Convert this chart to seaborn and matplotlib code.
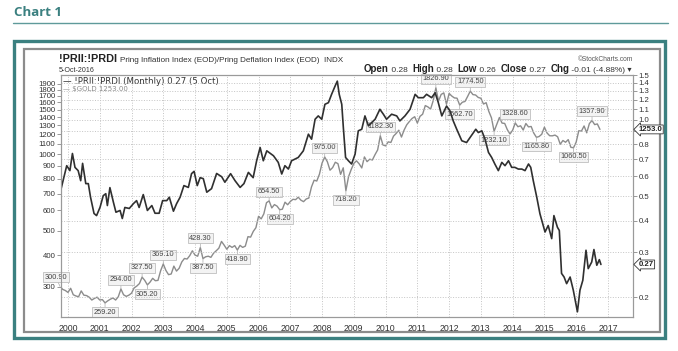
import matplotlib
matplotlib.use("Agg")
import matplotlib.pyplot as plt
from matplotlib.patches import Rectangle
from matplotlib.lines import Line2D
import pandas as pd
import seaborn as sns

# $GOLD monthly closes, Oct 1999 .. Oct 2016
gold_start = "1999-10-01"
gold_close = [
    300.9, 293, 290,
    285, 296, 279, 276, 274, 289, 278, 277, 273, 266, 270, 273,
    266, 267, 259.2, 264, 268, 271, 266, 274, 294.0, 279, 275, 278,
    283, 297, 302, 309, 327.5, 318, 305.2, 313, 324, 317, 318, 347,
    369.1, 348, 335, 337, 362, 346, 355, 376, 388, 386, 398, 416,
    400, 396, 428.3, 387.5, 394, 396, 392, 407, 416, 426, 453, 438,
    422, 436, 429, 436, 418.9, 437, 429, 434, 473, 471, 496, 513,
    569, 556, 582, 644, 654.5, 614, 633, 624, 604.2, 607, 647, 632,
    651, 664, 662, 677, 659, 650, 666, 672, 743, 790, 784, 834,
    923, 975.0, 934, 865, 886, 930, 918, 833, 884, 718.2, 815, 870,
    920, 942, 917, 883, 976, 935, 956, 949, 996, 1040, 1182.3, 1088,
    1079, 1119, 1113, 1179, 1208, 1244, 1169, 1246, 1307, 1347, 1384, 1406,
    1327, 1411, 1439, 1556, 1537, 1506, 1629, 1826.9, 1620, 1722, 1746, 1574,
    1738, 1697, 1668, 1664, 1562.7, 1604, 1615, 1691, 1774.5, 1719, 1713, 1675,
    1663, 1578, 1597, 1476, 1392, 1232.1, 1313, 1396, 1327, 1323, 1250, 1202,
    1244, 1328.6, 1284, 1295, 1246, 1322, 1282, 1287, 1211, 1165.8, 1175, 1199,
    1279, 1213, 1183, 1182, 1190, 1172, 1095, 1133, 1115, 1142, 1065, 1060.5,
    1116, 1238, 1234, 1293, 1215, 1322, 1357.9, 1309, 1317, 1253,
]

# !PRII:!PRDI ratio
ratio_year = [
    1999.77, 1999.96, 2000.06, 2000.14, 2000.22, 2000.32, 2000.40, 2000.46, 2000.56, 2000.64,
    2000.71, 2000.82, 2000.90, 2001.01, 2001.11, 2001.19, 2001.24, 2001.32, 2001.43, 2001.51,
    2001.64, 2001.71, 2001.79, 2001.93, 2002.06, 2002.16, 2002.24, 2002.37, 2002.50, 2002.64,
    2002.74, 2002.87, 2002.98, 2003.11, 2003.19, 2003.32, 2003.42, 2003.53, 2003.65, 2003.79,
    2003.89, 2003.97, 2004.07, 2004.16, 2004.26, 2004.37, 2004.52, 2004.68, 2004.84, 2004.94,
    2005.12, 2005.26, 2005.42, 2005.54, 2005.68, 2005.83, 2005.94, 2006.05, 2006.15, 2006.26,
    2006.47, 2006.62, 2006.73, 2006.83, 2006.94, 2007.04, 2007.25, 2007.41, 2007.57, 2007.67,
    2007.78, 2007.88, 2007.99, 2008.09, 2008.20, 2008.30, 2008.41, 2008.48, 2008.54, 2008.62,
    2008.67, 2008.74, 2008.83, 2008.93, 2009.04, 2009.14, 2009.25, 2009.35, 2009.46, 2009.56,
    2009.67, 2009.82, 2009.93, 2010.03, 2010.19, 2010.35, 2010.45, 2010.61, 2010.77, 2010.93,
    2011.03, 2011.19, 2011.29, 2011.45, 2011.56, 2011.66, 2011.77, 2011.92, 2012.03, 2012.13,
    2012.24, 2012.40, 2012.55, 2012.66, 2012.84, 2012.92, 2013.03, 2013.13, 2013.24, 2013.34,
    2013.44, 2013.55, 2013.66, 2013.76, 2013.87, 2013.97, 2014.07, 2014.18, 2014.29, 2014.39,
    2014.50, 2014.57, 2014.65, 2014.76, 2014.86, 2015.02, 2015.12, 2015.23, 2015.30, 2015.41,
    2015.47, 2015.54, 2015.62, 2015.70, 2015.81, 2015.91, 2016.04, 2016.12, 2016.21, 2016.31,
    2016.38, 2016.49, 2016.56, 2016.65, 2016.73, 2016.78,
]
ratio_value = [
    0.526, 0.659, 0.630, 0.736, 0.649, 0.630, 0.575, 0.673, 0.560, 0.560,
    0.495, 0.427, 0.419, 0.452, 0.502, 0.511, 0.459, 0.540, 0.473, 0.432,
    0.439, 0.408, 0.451, 0.447, 0.467, 0.480, 0.451, 0.507, 0.439, 0.459,
    0.428, 0.428, 0.480, 0.480, 0.495, 0.436, 0.467, 0.495, 0.550, 0.541,
    0.613, 0.626, 0.550, 0.591, 0.586, 0.518, 0.535, 0.614, 0.596, 0.567,
    0.613, 0.575, 0.541, 0.560, 0.620, 0.591, 0.689, 0.777, 0.689, 0.754,
    0.721, 0.679, 0.611, 0.659, 0.639, 0.689, 0.710, 0.754, 0.877, 0.838,
    1.004, 1.035, 1.004, 1.150, 1.167, 1.259, 1.357, 1.419, 1.259, 1.150,
    0.931, 0.710, 0.689, 0.669, 0.732, 0.904, 0.917, 1.035, 0.945, 0.974,
    1.004, 1.099, 1.051, 1.004, 1.051, 1.035, 0.989, 1.035, 1.099, 1.259,
    1.221, 1.221, 1.259, 1.221, 1.277, 1.167, 1.035, 1.132, 1.082, 0.989,
    0.917, 0.826, 0.813, 0.851, 0.917, 0.890, 0.904, 0.838, 0.743, 0.710,
    0.669, 0.630, 0.679, 0.659, 0.689, 0.649, 0.649, 0.639, 0.639, 0.630,
    0.669, 0.649, 0.575, 0.495, 0.426, 0.361, 0.383, 0.340, 0.419, 0.377,
    0.366, 0.248, 0.240, 0.226, 0.240, 0.213, 0.175, 0.213, 0.233, 0.306,
    0.259, 0.275, 0.308, 0.267, 0.281, 0.269,
]

# gold turning points that carry a value tag: month, tag above (1) or below (-1)
tag_month = ["1999-10", "2001-03", "2001-09", "2002-05", "2002-07", "2003-01",
             "2004-03", "2004-04", "2005-05", "2006-05", "2006-09", "2008-02",
             "2008-10", "2009-11", "2011-08", "2012-05", "2012-09", "2013-06",
             "2014-02", "2014-10", "2015-12", "2016-07"]
tag_side = [1, -1, 1, 1, -1, 1, 1, -1, -1, 1, -1, 1, -1, 1, 1, -1, 1, -1, 1, -1, -1, 1]

gold_ticks = [300, 400, 500, 600, 700, 800, 900, 1000, 1100, 1200, 1300,
              1400, 1500, 1600, 1700, 1800, 1900]
ratio_ticks = [0.2, 0.3, 0.4, 0.5, 0.6, 0.7, 0.8, 0.9, 1.0, 1.1, 1.2, 1.3, 1.4, 1.5]
ratio_tick_labels = ["0.2", "0.3", "0.4", "0.5", "0.6", "0.7", "0.8", "", "1.0",
                     "1.1", "1.2", "1.3", "1.4", "1.5"]
years = list(range(2000, 2018))

sns.set_style("white")
plt.rcParams["font.family"] = ["Liberation Sans", "DejaVu Sans"]

gold = pd.DataFrame({"date": pd.date_range(gold_start, periods=len(gold_close), freq="MS"),
                     "close": gold_close})
gold["year"] = gold["date"].dt.year + (gold["date"].dt.month - 1) / 12
ratio = pd.DataFrame({"year": ratio_year, "ratio": ratio_value})

W, H = 678, 351
fig = plt.figure(figsize=(W / 100, H / 100), dpi=100)


def fx(x):
    return x / W


def fy(y):
    return 1 - y / H


teal = "#3b8080"
# page title and frame
fig.text(fx(14), fy(12), "Chart 1", family="Open Sans", weight="bold", size=9.5,
         color=teal, va="center")
fig.add_artist(Line2D([fx(13), fx(668)], [fy(22.5), fy(22.5)], color="#5f9a9a", lw=1.0))
fig.add_artist(Rectangle((fx(14), fy(338)), fx(665) - fx(14), (338 - 41) / H,
                         fill=False, ec=teal, lw=2.4, zorder=-2))
fig.add_artist(Rectangle((fx(24), fy(332)), (660 - 24) / W, (332 - 49) / H,
                         fc="white", ec="#8c8c8c", lw=1.6, zorder=-1))

ax = fig.add_axes([fx(61), fy(317), (633 - 61) / W, (317 - 75) / H])
ax2 = ax.twinx()

sns.lineplot(data=gold, x="year", y="close", ax=ax, color="#8c8c8c", lw=1.0)
sns.lineplot(data=ratio, x="year", y="ratio", ax=ax2, color="#303030", lw=1.2)

ax.set_yscale("log")
ax2.set_yscale("log")
ax.set_ylim(228, 2054)
ax2.set_ylim(0.167, 1.50)
ax.set_xlim(1999.78, 2017.79)

ax.set_yticks(gold_ticks)
ax.set_yticklabels([str(v) for v in gold_ticks])
ax.minorticks_off()
ax2.set_yticks(ratio_ticks)
ax2.set_yticklabels(ratio_tick_labels)
ax2.minorticks_off()
ax.set_xticks(years)
ax.set_xticklabels([str(y) for y in years])
for a in (ax, ax2):
    a.set_xlabel("")
    a.set_ylabel("")
    a.tick_params(axis="both", length=3, width=0.6, color="#888", pad=1,
                  labelsize=5.6, labelcolor="#333")
    for s in a.spines.values():
        s.set_color("#9a9a9a")
        s.set_linewidth(0.8)
ax.tick_params(axis="x", labelsize=6.3, pad=2)
ax.tick_params(axis="y", left=True)
ax2.tick_params(axis="y", right=True)

ax.grid(axis="x", ls=":", color="#c4c4c4", lw=0.7)
ax.grid(axis="y", visible=False)
ax2.grid(axis="y", ls=":", color="#c4c4c4", lw=0.7)
ax2.grid(axis="x", visible=False)

# value tags on gold turning points
gold_idx = gold.set_index(gold["date"].dt.strftime("%Y-%m"))
for m, side in zip(tag_month, tag_side):
    row = gold_idx.loc[m]
    dx = -3 if m == "1999-10" else 0
    ax.annotate(f"{row['close']:.2f}", xy=(row["year"], row["close"]),
                xytext=(dx, 6.6 * side), textcoords="offset points",
                ha="center", va="center", size=5.3, color="#444",
                bbox=dict(boxstyle="square,pad=0.2", fc="#f3f3f3", ec="#b4b4b4", lw=0.5),
                arrowprops=dict(arrowstyle="-", color="#aaa", lw=0.5,
                                shrinkA=0, shrinkB=0),
                annotation_clip=False)

# last-value markers on the right axis
ax2.annotate(f"{gold_close[-1]:.1f}", xy=(1, gold_close[-1]),
             xycoords=(ax2.transAxes, ax.transData), xytext=(4, 0),
             textcoords="offset points", ha="left", va="center", size=5.6,
             weight="bold", color="#222",
             bbox=dict(boxstyle="larrow,pad=0.12", fc="white", ec="#333", lw=0.6),
             annotation_clip=False)
ax2.annotate(f"{ratio_value[-1]:.2f}", xy=(1, ratio_value[-1]),
             xycoords=(ax2.transAxes, ax2.transData), xytext=(4, 0),
             textcoords="offset points", ha="left", va="center", size=5.6,
             weight="bold", color="#222",
             bbox=dict(boxstyle="larrow,pad=0.12", fc="white", ec="#333", lw=0.6),
             annotation_clip=False)

# legend lines inside plot
ax.text(0.004, 0.99, "\u2014 !PRII:!PRDI (Monthly) 0.27 (5 Oct)", transform=ax.transAxes,
        family="DejaVu Sans", size=6.2, color="#333", va="top")
ax.text(0.004, 0.953, f"\u2014 $GOLD {gold_close[-1]:.2f}", transform=ax.transAxes,
        family="DejaVu Sans", size=5.0, color="#8a8a8a", va="top")

# chart header
t1 = fig.text(fx(59), fy(62.5), "!PRII:!PRDI", weight="bold", size=7.8, color="#222",
              va="baseline")
ax.annotate("Pring Inflation Index (EOD)/Pring Deflation Index (EOD)  INDX",
            xy=(1, 0), xycoords=t1, xytext=(2, 0), textcoords="offset points",
            size=5.9, color="#333", va="bottom", annotation_clip=False)
fig.text(fx(59), fy(72), "5-Oct-2016", size=5.1, color="#333", va="baseline")
fig.text(fx(633), fy(61), "\u00a9StockCharts.com", size=4.8, color="#555", ha="right",
         va="baseline")

pieces = [("Open", True), (" 0.28  ", False), ("High", True), (" 0.28  ", False),
          ("Low", True), (" 0.26  ", False), ("Close", True), (" 0.27  ", False),
          ("Chg", True), (" -0.01 (-4.88%) \u25be", False)]
prev = fig.text(fx(632), fy(71.5), pieces[-1][0], size=6.0, color="#333",
                ha="right", va="baseline")
for txt, bold in reversed(pieces[:-1]):
    prev = ax.annotate(txt, xy=(0, 0), xycoords=prev, ha="right", va="bottom",
                       size=7.0 if bold else 6.0, weight="bold" if bold else "normal",
                       color="#222" if bold else "#333", annotation_clip=False)

fig.savefig("out.png", dpi=100)
